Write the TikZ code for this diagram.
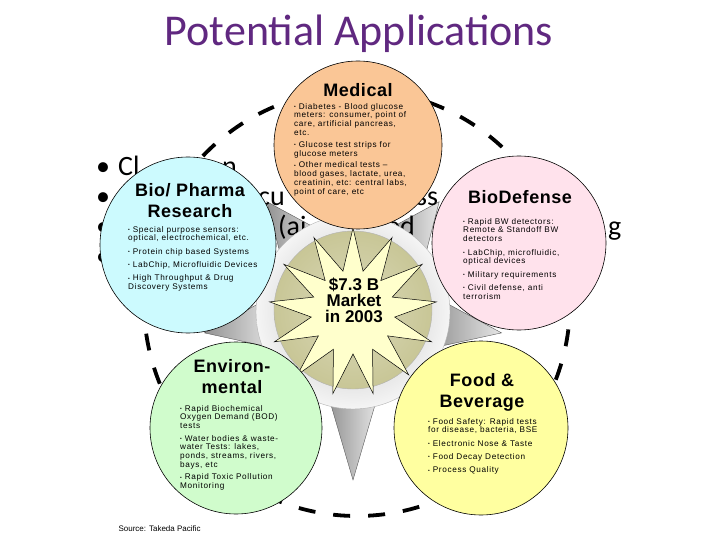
\documentclass[tikz,border=0pt]{standalone}
\usepackage{fontspec}
\setmainfont{Liberation Sans}
\newfontfamily\slidefont{Carlito}
\newfontfamily\fieldfont[LetterSpace=8]{Liberation Sans}
\newfontfamily\fieldheadfont[LetterSpace=3]{Liberation Sans}
\usetikzlibrary{shapes.geometric,calc}
\definecolor{titlepurple}{RGB}{96,40,128}
\definecolor{medfill}{RGB}{250,198,150}
\definecolor{pharmafill}{RGB}{204,250,254}
\definecolor{defensefill}{RGB}{255,226,236}
\definecolor{envfill}{RGB}{208,252,204}
\definecolor{foodfill}{RGB}{255,255,160}
\definecolor{hubkhaki}{RGB}{200,198,150}
\definecolor{starfill}{RGB}{255,255,204}
\newcommand{\appbul}{\raisebox{.15ex}{\scalebox{.6}{\textbullet}}\ }
\begin{document}
\begin{tikzpicture}[x=1pt, y=-1pt,
    appcircle/.style={draw, circle, inner sep=0pt, line width=0.6pt},
    heading/.style={font=\fieldheadfont\fontsize{18}{21}\selectfont\bfseries, align=center},
    bodytext/.style={font=\fieldfont\fontsize{8.2}{8.8}\selectfont, align=left, anchor=north west, inner sep=0pt},
    backtext/.style={font=\slidefont\fontsize{28}{30}\selectfont, anchor=base west, inner sep=0pt}]
    \useasboundingbox (0,0) rectangle (720,540);

    \node[font=\slidefont\fontsize{44}{50}\selectfont, text=titlepurple, anchor=base] (title) at (359,46) {Potential Applications};

    % dashed loop round the five fields
    \coordinate (hub) at (353,312);
    \draw[line width=3.8pt, dash pattern=on 17pt off 18pt] (357,303) circle[radius=213pt];

    % grey wedges between the fields
    \foreach \a/\r in {-128/140,-52/140,8/150,90/168,172/150}
        \shade[left color=gray!85, right color=gray!20, draw=gray!70!black, line width=0.4pt]
            ($(hub)+(\a:\r)$) -- ($(hub)+(\a+17:86)$) -- ($(hub)+(\a-17:86)$) -- cycle;

    % slide text left behind the picture
    \foreach \yb in {176,206,236,265}
        \node[backtext] at (96,\yb) {•};
    \node[backtext] (frag1) at (118,176) {Cl};
    \node[backtext] (frag2) at (222,176) {n};
    \node[backtext] (frag3) at (258,206) {cu};
    \node[backtext] (frag4) at (402,206) {ess};
    \node[backtext] (frag5) at (278,236) {(ai};
    \node[backtext] (frag6) at (386,236) {ed};
    \node[backtext] (frag7) at (608,236) {g};

    % centre
    \shade[inner color=gray!55, outer color=gray!8, draw=gray!60] (hub) circle[radius=97pt];
    \shade[inner color=hubkhaki!65, outer color=hubkhaki, draw=gray!60] ($(hub)+(0,-2)$) circle[radius=79pt];
    \draw[fill=starfill, line width=0.5pt] ($(hub)+(-90:84)$)
        \foreach \k in {1,...,25} { -- ($(hub)+({-90+\k*360/26}:{mod(\k,2)==0 ? 84 : 42})$) } -- cycle;
    \node[font=\fontsize{17}{16}\selectfont\bfseries, align=center] (market) at (354,300) {\$7.3 B\\Market\\in 2003};

    % the five fields
    \node[appcircle, fill=medfill, minimum size=168pt] (medical) at (358,145) {};
    \node[appcircle, fill=pharmafill, minimum size=176pt] (pharma) at (188,245) {};
    \node[appcircle, fill=defensefill, minimum size=174pt] (defense) at (519,243) {};
    \node[appcircle, fill=envfill, minimum size=172pt] (environ) at (236,428) {};
    \node[appcircle, fill=foodfill, minimum size=174pt] (food) at (481,428) {};

    \node[heading] (medhead) at (358,90) {Medical};
    \node[bodytext] (medbody) at (294,103) {\appbul Diabetes - Blood glucose\\ meters: consumer, point of\\ care, artificial pancreas,\\ etc.\\[3pt]
        \appbul Glucose test strips for\\ glucose meters\\[3pt]
        \appbul Other medical tests –\\ blood gases, lactate, urea,\\ creatinin, etc: central labs,\\ point of care, etc};

    \node[heading] (pharmahead) at (190,201) {Bio/ Pharma\\Research};
    \node[bodytext] (pharmabody) at (128,226) {\appbul Special purpose sensors:\\ optical, electrochemical, etc.\\[4.5pt]
        \appbul Protein chip based Systems\\[4.5pt]
        \appbul LabChip, Microfluidic Devices\\[4.5pt]
        \appbul High Throughput \& Drug\\ Discovery Systems};

    \node[heading] (defhead) at (520,197) {BioDefense};
    \node[bodytext] (defbody) at (463,218) {\appbul Rapid BW detectors:\\ Remote \& Standoff BW\\ detectors\\[4.5pt]
        \appbul LabChip, microfluidic,\\ optical devices\\[4.5pt]
        \appbul Military requirements\\[4.5pt]
        \appbul Civil defense, anti\\ terrorism};

    \node[heading] (envhead) at (232,377) {Environ-\\mental};
    \node[bodytext] (envbody) at (180,405) {\appbul Rapid Biochemical\\ Oxygen Demand (BOD)\\ tests\\[3.5pt]
        \appbul Water bodies \& waste-\\ water Tests: lakes,\\ ponds, streams, rivers,\\ bays, etc\\[3.5pt]
        \appbul Rapid Toxic Pollution\\ Monitoring};

    \node[heading] (foodhead) at (482,392) {Food \&\\Beverage};
    \node[bodytext] (foodbody) at (428,418) {\appbul Food Safety: Rapid tests\\ for disease, bacteria, BSE\\[4.5pt]
        \appbul Electronic Nose \& Taste\\[4.5pt]
        \appbul Food Decay Detection\\[4.5pt]
        \appbul Process Quality};

    \node[font=\fontsize{8}{9}\selectfont, anchor=base west] (source) at (115,531) {Source: Takeda Pacific};
\end{tikzpicture}
\end{document}
